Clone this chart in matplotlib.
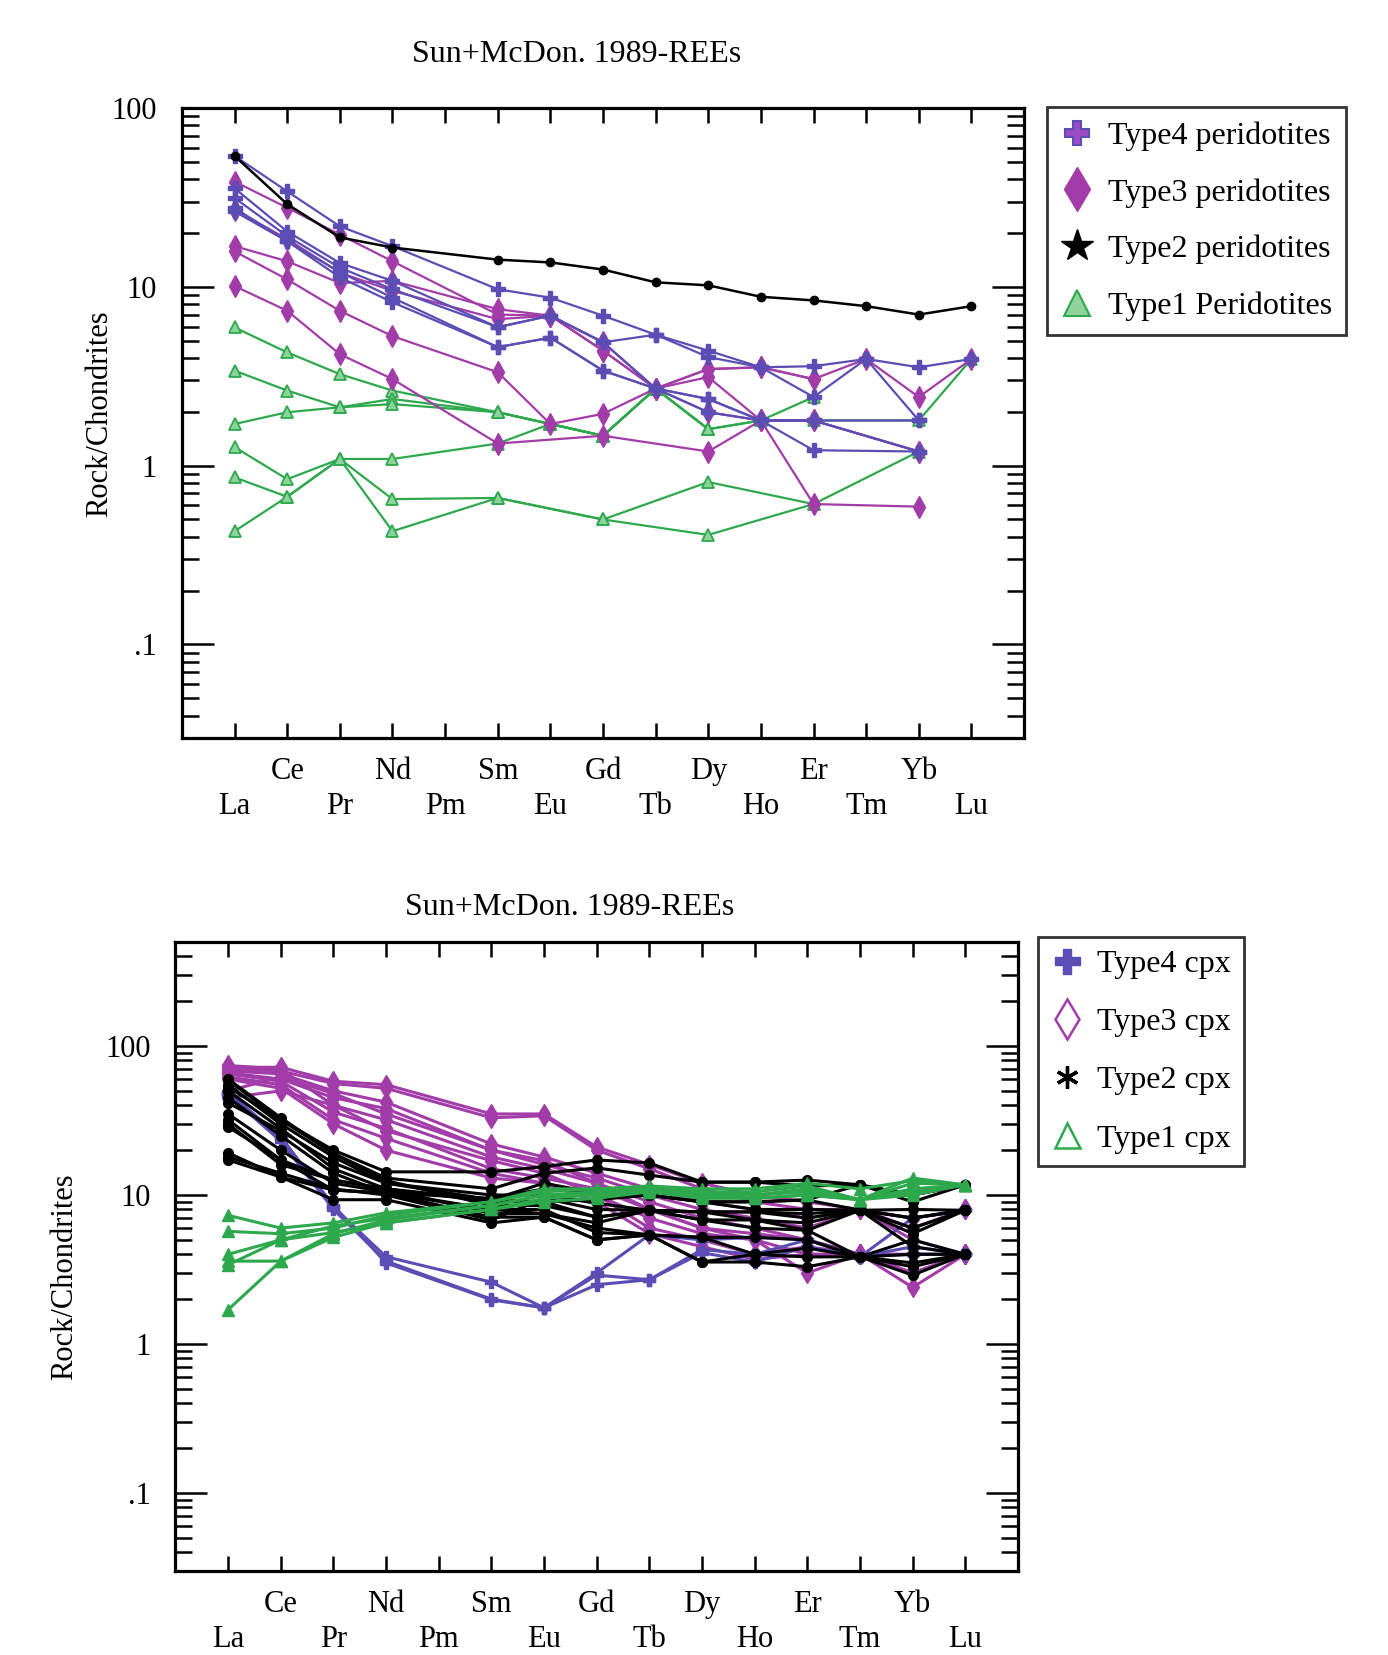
import numpy as np
import matplotlib.pyplot as plt
from matplotlib.lines import Line2D
from matplotlib.ticker import FixedLocator, LogLocator, NullFormatter

plt.rcParams['font.family'] = ['Liberation Serif', 'DejaVu Serif']

nan = np.nan
elements = ['La', 'Ce', 'Pr', 'Nd', 'Pm', 'Sm', 'Eu', 'Gd',
            'Tb', 'Dy', 'Ho', 'Er', 'Tm', 'Yb', 'Lu']

# ---- upper panel: whole-rock peridotites ----
type4_peri = [
    [54, 34.2, 21.8, 16.9, nan, 9.7, 8.7, 6.9, 5.4, 4.4, 3.55, 3.6, 3.95, 3.55, 3.95],
    [35.6, 20.4, 13.6, 10.8, nan, 5.95, 6.9, 4.9, 5.4, 4.05, 3.55, 2.42, 3.95, 1.79, nan],
    [31.4, 19.2, 12.8, 9.7, nan, 5.95, 6.9, 4.9, 2.7, 2.36, 1.79, 1.79, nan, 1.79, nan],
    [27.6, 18.0, 12.1, 8.7, nan, 4.6, 5.2, 3.4, 2.7, 1.99, 1.79, 1.22, nan, 1.2, nan],
    [26.4, 18.0, 11.3, 8.2, nan, 4.6, 5.2, 3.4, 2.7, 2.36, 1.79, 1.79, nan, 1.2, nan],
]
type3_peri = [
    [38.8, 27.7, 19.6, 13.9, nan, 7.0, 6.9, 4.4, 2.7, 3.47, 3.55, 3.05, 3.95, 2.42, 3.95],
    [27.0, 18.5, 12.0, 9.5, nan, 6.6, 6.9, 4.9, 2.7, 1.99, 1.79, 1.79, nan, 1.2, nan],
    [16.9, 13.9, 10.5, 10.8, nan, 7.5, 6.9, 4.4, 2.7, 3.47, 3.55, 3.05, nan, nan, nan],
    [15.8, 11.0, 7.35, 5.3, nan, 3.33, 1.71, 1.95, 2.7, 3.13, 1.79, 0.61, nan, 0.59, nan],
    [10.1, 7.35, 4.2, 3.05, nan, 1.33, nan, 1.47, nan, 1.2, 1.79, 1.79, nan, 1.2, nan],
]
type2_peri = [
    [54, 29, 18.9, 16.6, nan, 14.2, 13.7, 12.5, 10.6, 10.2, 8.8, 8.4, 7.8, 7.0, 7.8],
]
type1_peri = [
    [5.93, 4.3, 3.25, 2.63, nan, 1.99, 1.71, 1.47, 2.7, 1.6, 1.79, 2.42, nan, nan, nan],
    [3.4, 2.63, 2.12, 2.36, nan, 1.99, 1.71, 1.47, 2.7, 1.6, 1.79, 1.79, nan, 1.79, 3.95],
    [1.71, 1.99, 2.12, 2.21, nan, 1.99, 1.71, 1.47, 2.7, 1.6, nan, nan, nan, nan, nan],
    [1.27, 0.84, 1.09, 1.09, nan, 1.33, 1.71, 1.47, 2.7, nan, nan, nan, nan, nan, nan],
    [0.86, 0.67, 1.09, 0.65, nan, 0.66, nan, 0.5, nan, 0.81, nan, 0.61, nan, 1.2, nan],
    [0.43, 0.67, 1.09, 0.43, nan, 0.66, nan, 0.5, nan, 0.41, nan, 0.61, nan, nan, nan],
]

# ---- lower panel: clinopyroxene ----
type4_cpx = [
    [49, 24.5, 8.3, 3.85, nan, 2.6, 1.75, 3.0, 5.4, 5.0, 5.2, 5.0, 3.85, 4.5, 4.0],
    [48, 24.5, 8.5, 3.5, nan, 1.98, 1.75, 2.5, 2.7, 4.1, 3.55, 4.5, 3.85, 7.0, 7.9],
    [47, 23, 8.0, 3.6, nan, 2.0, 1.75, 2.9, 2.7, 4.3, 4.0, 5.0, 3.85, 4.0, 4.0],
]
type3_cpx = [
    [72, 72, 58, 55, nan, 35, 35, 21, 16, 12, 10, 9, 8, 7, 8],
    [70, 68, 56, 52, nan, 33, 34, 20, 15, 11, 9, 8, 8, 6, 8],
    [68, 65, 50, 42, nan, 22, 18, 14, 11, 9, 8, 7, 8, 6, 8],
    [66, 60, 45, 38, nan, 20, 16, 13, 10, 8, 7, 6, 8, 5, 4],
    [74, 70, 40, 32, nan, 18, 15, 12, 9, 7, 6, 5, 4, 4, 4],
    [65, 58, 36, 28, nan, 15, 13, 11, 8, 6, 5, 4, 4, 3, 4],
    [62, 55, 32, 24, nan, 14, 12, 10, 7, 5.5, 5, 3, 4, 2.4, 4],
    [60, 52, 30, 20, nan, 13, 12, 9, 5.5, 4.5, 3.7, 4, 4, 3, 4],
    [50, 62, 48, 35, nan, 20, 17, 12, 8, 6, 5.5, 5, 4, 4, 4],
    [45, 50, 40, 27, nan, 17, 14, 10, 6, 5, 4, 4.5, 4, 3, 4],
]
type2_cpx = [
    [59, 32, 20, 14.3, nan, 14.3, 15.5, 17.2, 16.4, 12.2, 12.2, 12.6, 11.7, 10, 11.7],
    [53, 32, 19, 13, nan, 11, 14, 15.2, 13.6, 12.2, 12.2, 11.5, 11.7, 9, 11.7],
    [55, 30, 18, 12, nan, 9.3, 12, 10.3, 10, 9, 9, 9.25, 7.9, 8, 7.9],
    [41.5, 27, 16.4, 12, nan, 10, 10, 8.8, 7.9, 7.7, 7.7, 7.5, 7.9, 7, 7.9],
    [32, 17.2, 12.6, 11, nan, 9.3, 9, 7.1, 7.9, 6.8, 6.8, 5.8, 3.85, 5, 4.0],
    [28.6, 17.2, 10.8, 10.3, nan, 8, 8, 5.6, 5.4, 5.2, 5.2, 5.0, 3.85, 4, 4.0],
    [19.2, 13.2, 10.8, 10.3, nan, 7.1, 7.1, 5.0, 5.4, 3.55, 4.0, 3.84, 3.85, 3.3, 4.0],
    [17.2, 13.2, 9.3, 9.3, nan, 6.5, 7.1, 5.0, 5.4, 3.55, 3.55, 3.3, 3.85, 2.9, 4.0],
    [18, 14, 11, 10, nan, 6.8, 9.5, 8, 7.9, 7.7, 6.8, 6.5, 7.9, 6, 7.9],
    [50, 28, 15, 11, nan, 9, 9, 9.3, 10, 9, 9, 9.3, 11.7, 10, 11.7],
    [45, 25, 14, 10.3, nan, 9.5, 11, 10.3, 10, 9, 8, 8, 7.9, 7, 7.9],
    [30, 16, 12.6, 11, nan, 7.5, 7.5, 6, 5.4, 5.2, 4, 4.4, 3.85, 3.5, 4.0],
    [35, 20, 12, 10.5, nan, 8, 7.5, 6.5, 7.9, 6.8, 6, 5.8, 7.9, 5.5, 7.9],
    [60, 33, 19, 12.5, nan, 8.5, 8.5, 7.1, 7.9, 7.7, 7.7, 7, 7.9, 4.5, 4.0],
]
type1_cpx = [
    [7.3, 6.0, 6.5, 7.6, nan, 9, 11, 11, 11.5, 11, 11, 12, 11, 12.5, 11.7],
    [5.7, 5.5, 6.0, 7.3, nan, 9, 10.5, 11, 11, 10.5, 10.5, 11.5, 9.3, 13, 11.7],
    [4.0, 5.0, 6.2, 7.0, nan, 8.5, 10, 10.5, 11, 10.5, 10, 11, 9.3, 11, 11.7],
    [3.6, 3.6, 5.5, 6.8, nan, 8.5, 10, 10, 11, 10, 10, 10.5, 9.3, 10.5, 11.7],
    [3.4, 5.0, 5.6, 6.5, nan, 8.0, 9.5, 10, 10.5, 10, 9.5, 10, 9.3, 12, 11.7],
    [1.7, 3.6, 5.2, 6.5, nan, 8.0, 9, 9.5, 10.5, 9.5, 9.5, 10, 9.3, 10, 11.7],
]

blue = '#5a4db4'
purple = '#a23ca8'
green = '#2ea84c'
light_green = '#8ed39c'

x = np.arange(1, len(elements) + 1)


def draw(ax, series, **kw):
    for s in series:
        s = np.array(s, dtype=float)
        ok = ~np.isnan(s)
        ax.plot(x[ok], s[ok], **kw)


def style_axes(ax, ymin, ymax):
    ax.set_yscale('log')
    ax.set_xlim(0, 16)
    ax.set_ylim(ymin, ymax)
    ax.set_xticks(x)
    ax.set_xticklabels([el if i % 2 == 1 else '\n' + el for i, el in enumerate(elements)])
    for t in ax.get_xticklabels():
        t.set_linespacing(1.25)
    ax.yaxis.set_major_locator(FixedLocator([0.1, 1, 10, 100]))
    ax.set_yticklabels(['.1', '1', '10', '100'])
    ax.yaxis.set_minor_locator(LogLocator(base=10, subs=np.arange(2, 10), numticks=20))
    ax.yaxis.set_minor_formatter(NullFormatter())
    ax.tick_params(axis='both', which='both', direction='in', top=True, right=True)
    ax.tick_params(axis='x', length=11, width=1.8, labelsize=22, pad=14)
    ax.tick_params(axis='y', which='major', length=23, width=1.8, labelsize=22, pad=18)
    ax.tick_params(axis='y', which='minor', length=12, width=1.8)
    for sp in ax.spines.values():
        sp.set_linewidth(2.3)


fig = plt.figure(figsize=(13.88, 16.55), dpi=100)

# upper panel
ax1 = fig.add_axes([0.1311, 0.5541, 0.6067, 0.3806])
draw(ax1, type1_peri, color=green, lw=1.6, marker='^', ms=9, mfc=light_green, mec=green, mew=1.3)
draw(ax1, type3_peri, color=purple, lw=1.6, marker='d', ms=11, mfc=purple, mec=purple)
draw(ax1, type4_peri, color=blue, lw=1.6, marker='P', ms=10, mfc=blue, mec=blue)
draw(ax1, type2_peri, color='black', lw=1.8, marker='o', ms=6)
style_axes(ax1, 0.03, 100)

# lower panel
ax2 = fig.add_axes([0.1264, 0.0508, 0.607, 0.3801])
draw(ax2, type3_cpx, color=purple, lw=2.2, marker='d', ms=10, mfc=purple, mec=purple)
draw(ax2, type4_cpx, color=blue, lw=2.2, marker='P', ms=9, mfc=blue, mec=blue)
draw(ax2, type2_cpx, color='black', lw=2.2, marker='o', ms=7)
draw(ax2, type1_cpx, color=green, lw=2.2, marker='^', ms=9, mfc=green, mec=green)
style_axes(ax2, 0.03, 500)

fig.text(0.4157, 0.9668, 'Sun+McDon. 1989-REEs', ha='center', va='center', fontsize=23)
fig.text(0.4107, 0.4514, 'Sun+McDon. 1989-REEs', ha='center', va='center', fontsize=23)
fig.text(100 / 1388, 1 - 414 / 1655, 'Rock/Chondrites', rotation=90,
         ha='center', va='center', fontsize=22)
fig.text(65 / 1388, 1 - 1277 / 1655, 'Rock/Chondrites', rotation=90,
         ha='center', va='center', fontsize=22)

# legends
h1 = [
    Line2D([], [], ls='none', marker='P', ms=17, mfc='#9b4cc4', mec=blue, mew=1.5),
    Line2D([], [], ls='none', marker='d', ms=22, mfc=purple, mec=purple),
    Line2D([], [], ls='none', marker='*', ms=24, color='black'),
    Line2D([], [], ls='none', marker='^', ms=19, mfc=light_green, mec=green, mew=1.5),
]
l1 = ['Type4 peridotites', 'Type3 peridotites', 'Type2 peridotites', 'Type1 Peridotites']
leg1 = fig.legend(h1, l1, loc='upper left', bbox_to_anchor=(0.7543, 0.9353),
                  bbox_transform=fig.transFigure, frameon=True, fancybox=False,
                  edgecolor='black', fontsize=23, handlelength=1.0, handletextpad=0.45,
                  borderpad=0.45, labelspacing=0.85, borderaxespad=0)
leg1.get_frame().set_linewidth(2)

h2 = [
    Line2D([], [], ls='none', marker='P', ms=18, mfc=blue, mec=blue),
    Line2D([], [], ls='none', marker='d', ms=20, mfc='none', mec=purple, mew=1.8),
    Line2D([], [], ls='none', marker=(6, 2, 0), ms=16, color='black', mew=2.4),
    Line2D([], [], ls='none', marker='^', ms=18, mfc='none', mec=green, mew=1.8),
]
l2 = ['Type4 cpx', 'Type3 cpx', 'Type2 cpx', 'Type1 cpx']
leg2 = fig.legend(h2, l2, loc='upper left', bbox_to_anchor=(0.7478, 0.4338),
                  bbox_transform=fig.transFigure, frameon=True, fancybox=False,
                  edgecolor='black', fontsize=23, handlelength=1.0, handletextpad=0.45,
                  borderpad=0.4, labelspacing=0.9, borderaxespad=0)
leg2.get_frame().set_linewidth(2)

fig.savefig('out.png', dpi=100, facecolor='white')
